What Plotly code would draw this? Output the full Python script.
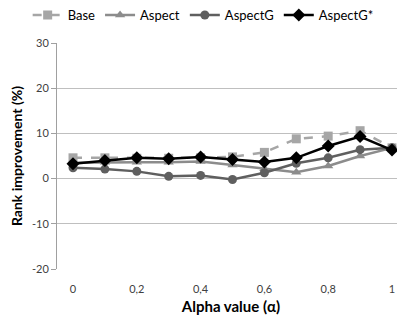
import plotly.graph_objects as go

alpha = [0, 0.1, 0.2, 0.3, 0.4, 0.5, 0.6, 0.7, 0.8, 0.9, 1.0]
base = [4.6, 4.6, 4.5, 4.5, 4.6, 4.8, 5.8, 8.8, 9.4, 10.6, 6.8]
aspect = [3.5, 3.6, 3.6, 3.6, 3.8, 3.0, 2.2, 1.4, 2.8, 5.0, 6.8]
aspectg = [2.4, 2.1, 1.6, 0.5, 0.7, -0.2, 1.3, 3.4, 4.6, 6.4, 6.8]
aspectg_star = [3.3, 4.0, 4.6, 4.4, 4.8, 4.2, 3.7, 4.6, 7.2, 9.3, 6.3]
x_tick_vals = [0, 0.2, 0.4, 0.6, 0.8, 1.0]
x_tick_text = ["0", "0,2", "0,4", "0,6", "0,8", "1"]
y_tick_vals = [-20, -10, 0, 10, 20, 30]
y_tick_text = ["-20", "-10", "0", "10", "20", "30"]

fig = go.Figure()
fig.add_trace(go.Scatter(x=alpha, y=base, name="Base", mode="lines+markers",
                         line=dict(color="#A6A6A6", width=2.5, dash="dash"),
                         marker=dict(symbol="square", size=9, color="#A6A6A6")))
fig.add_trace(go.Scatter(x=alpha, y=aspect, name="Aspect", mode="lines+markers",
                         line=dict(color="#8C8C8C", width=2.5),
                         marker=dict(symbol="triangle-up", size=9, color="#8C8C8C")))
fig.add_trace(go.Scatter(x=alpha, y=aspectg, name="AspectG", mode="lines+markers",
                         line=dict(color="#5F5F5F", width=2.5),
                         marker=dict(symbol="circle", size=9, color="#5F5F5F")))
fig.add_trace(go.Scatter(x=alpha, y=aspectg_star, name="AspectG*", mode="lines+markers",
                         line=dict(color="#000000", width=2.5),
                         marker=dict(symbol="diamond", size=10, color="#000000")))

# page body has an 8px default margin, so the figure is sized/offset to compensate
fig.update_layout(
    width=397, height=307,
    margin=dict(l=49, r=0, t=35, b=46, autoexpand=False),
    paper_bgcolor="white", plot_bgcolor="white",
    font=dict(family="Lato, Noto Sans, sans-serif", color="#000000"),
    legend=dict(orientation="h", x=0.42, xanchor="center", y=1.19, yanchor="top",
                font=dict(size=13), itemwidth=30, tracegroupgap=0,
                bgcolor="rgba(0,0,0,0)"),
    showlegend=True,
)
fig.update_xaxes(range=[-0.0502, 1.0408], tickvals=x_tick_vals, ticktext=x_tick_text,
                 showgrid=False, zeroline=False, showline=False, automargin=False,
                 tickfont=dict(size=11, color="#404040"), ticks="", ticklabelstandoff=12,
                 title=dict(text="<b>Alpha value (α)</b>", font=dict(size=15), standoff=16))
fig.update_yaxes(range=[-20, 30], tickvals=y_tick_vals, ticktext=y_tick_text,
                 showgrid=True, gridcolor="#BFBFBF", gridwidth=1, automargin=False,
                 zeroline=False, showline=True, linecolor="#A0A0A0", linewidth=1,
                 ticks="outside", ticklen=5, tickcolor="#A0A0A0",
                 tickfont=dict(size=11, color="#404040"),
                 title=dict(text="<b>Rank improvement (%)</b>", font=dict(size=14), standoff=6))

fig.write_html("out.html")
